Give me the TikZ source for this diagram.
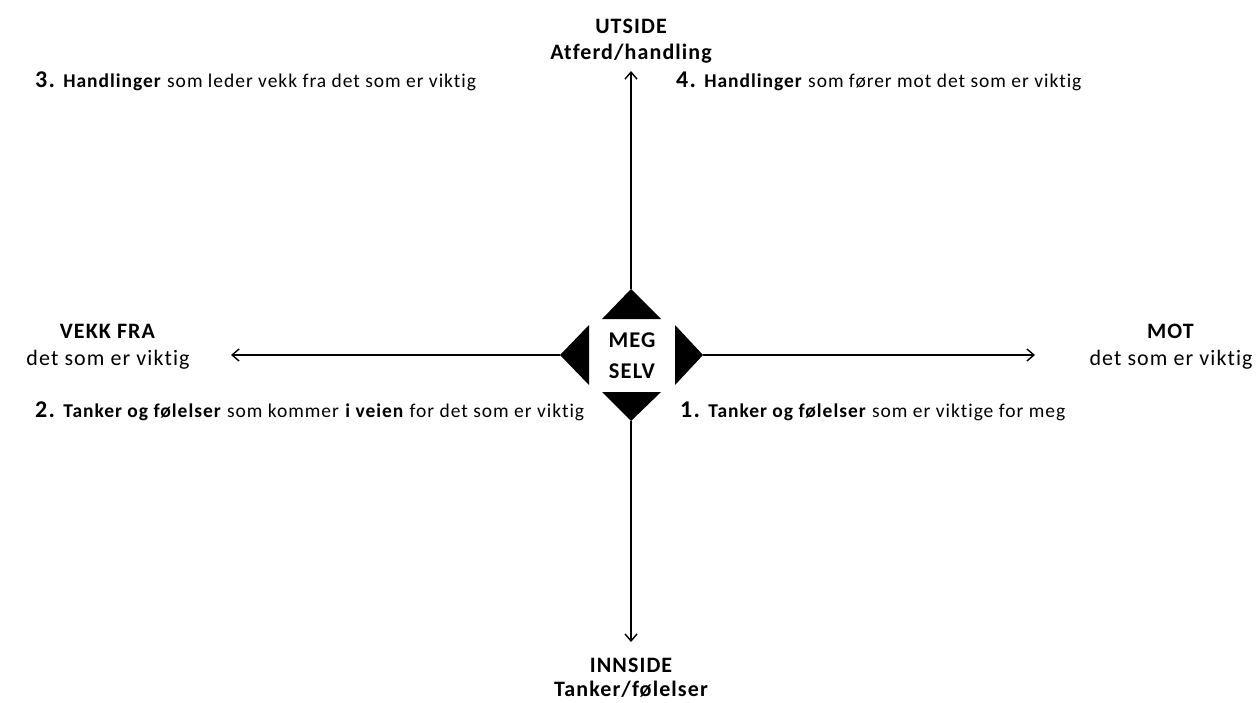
\documentclass[tikz,border=0pt]{standalone}
\usepackage{fontspec}
\setmainfont{Carlito}[LetterSpace=5, Ligatures=NoCommon]
\usetikzlibrary{positioning,calc,arrows.meta}
\newcommand{\quadnum}[1]{{\fontsize{24}{26}\selectfont\bfseries #1}}

\begin{document}
\begin{tikzpicture}[x=1pt, y=-1pt,
  axis/.style={line width=1.4pt, -{Straight Barb[length=7pt, width=12pt]}},
  tip/.style={fill=black},
  pole/.style={align=center, anchor=base, inner sep=0pt},
  item/.style={font=\fontsize{19.5}{22}\selectfont, anchor=base west, inner sep=0pt},
]
\useasboundingbox (0,0) rectangle (1260,702);

% Centre
\node[font=\fontsize{22.5}{31}\selectfont\bfseries, align=center] (meg) at (632,356) {MEG\\SELV};

% Triangles round the centre
\fill[tip] (602,319) -- (631,289) -- (661,319) -- cycle;
\fill[tip] (602,392) -- (631,421) -- (661,392) -- cycle;
\fill[tip] (589,325) -- (560,355) -- (589,385) -- cycle;
\fill[tip] (675,325) -- (703,355) -- (675,385) -- cycle;
\coordinate (top) at (631,289);
\coordinate (bottom) at (631,421);
\coordinate (left) at (560,355);
\coordinate (right) at (703,355);

% Axis ends
\coordinate (topend) at (631,71);
\coordinate (bottomend) at (631,642);
\coordinate (leftend) at (231,355);
\coordinate (rightend) at (1035,355);

\draw[axis] (top) -- (topend);
\draw[axis] (bottom) -- (bottomend);
\draw[axis] (left) -- (leftend);
\draw[axis] (right) -- (rightend);

% Poles (anchored at the base of the last line)
\node[pole, font=\fontsize{22}{26}\selectfont\bfseries] (utside) at (631,59) {UTSIDE\\Atferd/handling};
\node[pole, font=\fontsize{22}{24}\selectfont\bfseries] (innside) at (631,696) {INNSIDE\\Tanker/følelser};
\node[pole, font=\fontsize{22}{27}\selectfont] (vekk) at (108,365) {\textbf{VEKK FRA}\\det som er viktig};
\node[pole, font=\fontsize{22}{27}\selectfont] (mot) at (1171,365) {\textbf{MOT}\\det som er viktig};

% Quadrants
\node[item] (q3) at (35,87) {\quadnum{3.} \textbf{Handlinger} som leder vekk fra det som er viktig};
\node[item] (q4) at (676,87) {\quadnum{4.} \textbf{Handlinger} som fører mot det som er viktig};
\node[item] (q2) at (35,417) {\quadnum{2.} \textbf{Tanker og følelser} som kommer \textbf{i veien} for det som er viktig};
\node[item] (q1) at (680,417) {\quadnum{1.} \textbf{Tanker og følelser} som er viktige for meg};

\end{tikzpicture}
\end{document}
